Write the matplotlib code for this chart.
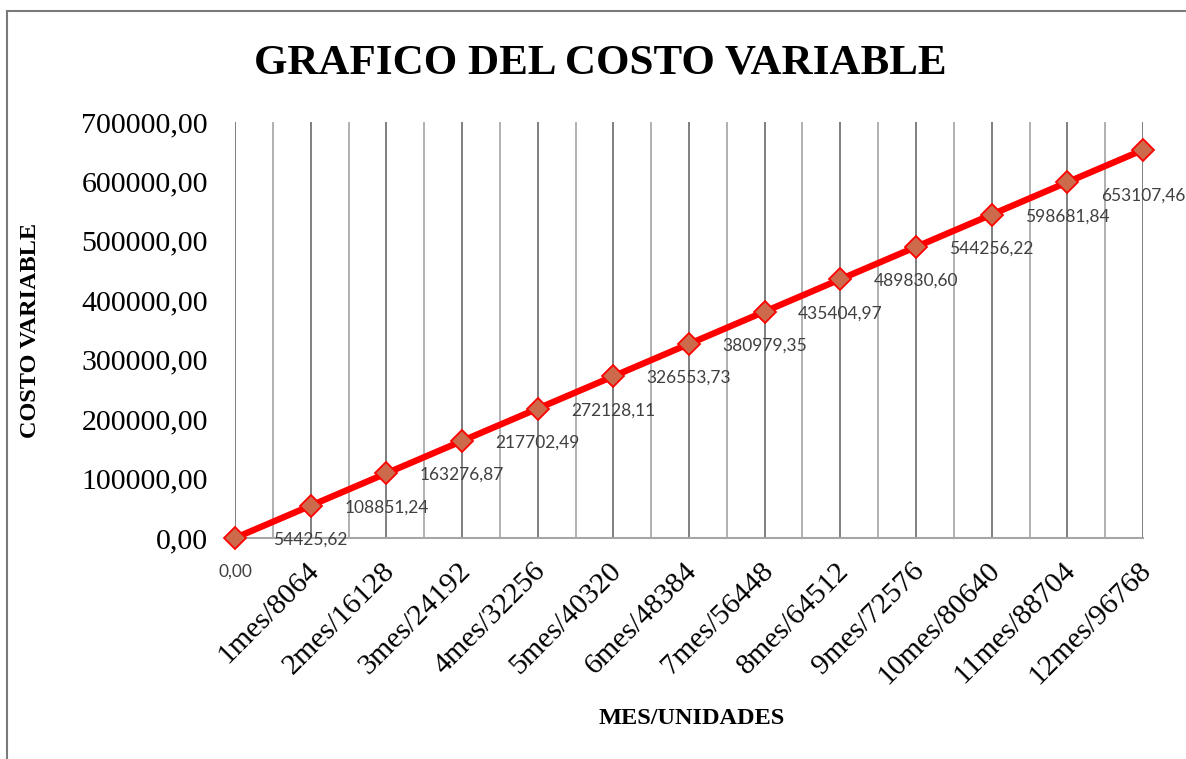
import matplotlib
matplotlib.use("Agg")
import matplotlib.pyplot as plt
from matplotlib.lines import Line2D
from matplotlib.transforms import ScaledTranslation
import numpy as np

categories = ["", "1mes/8064", "2mes/16128", "3mes/24192", "4mes/32256", "5mes/40320",
              "6mes/48384", "7mes/56448", "8mes/64512", "9mes/72576", "10mes/80640",
              "11mes/88704", "12mes/96768"]
values = [0.00, 54425.62, 108851.24, 163276.87, 217702.49, 272128.11, 326553.73,
          380979.35, 435404.97, 489830.60, 544256.22, 598681.84, 653107.46]
yticks = [0, 100000, 200000, 300000, 400000, 500000, 600000, 700000]

def fmt(v):
    return f"{v:.2f}".replace(".", ",")

W, H = 1186, 759
fig = plt.figure(figsize=(W / 100, H / 100), dpi=100)
ax = fig.add_axes([235 / W, 1 - 538 / H, (1143 - 235) / W, (538 - 122) / H])

x = np.arange(len(categories))
ax.set_xlim(0, len(categories) - 1)
ax.set_ylim(0, 700000)

# vertical gridlines
for xi in np.arange(0, len(categories) - 0.5 + 0.01, 0.5):
    major = abs(xi - round(xi)) < 1e-9
    ax.axvline(xi, color="#7f7f7f" if major else "#b0b0b0", lw=1.4, zorder=1)

ax.plot(x, values, color="#ff0000", lw=4.6, marker="D", markersize=11.5,
        markerfacecolor="#cd6a4c", markeredgecolor="#ff0000", markeredgewidth=1.3,
        zorder=4, clip_on=False)

for i, v in enumerate(values):
    off = -34 if i < len(values) - 1 else -46
    ax.annotate(fmt(v), (x[i], v), xytext=(0, off), textcoords="offset pixels",
                ha="center", va="center", fontsize=12.5, color="#404040",
                family="Lato", fontweight="normal", zorder=5, annotation_clip=False)

for s in ["top", "right", "left"]:
    ax.spines[s].set_visible(False)
ax.spines["bottom"].set_color("#a6a6a6")
ax.spines["bottom"].set_linewidth(1.5)
ax.spines["bottom"].set_zorder(2)

ax.set_yticks(yticks)
ax.set_yticklabels([fmt(v) for v in yticks], family="Liberation Serif", fontsize=21.5)
ax.tick_params(axis="y", length=0, pad=19.5)
ax.set_xticks(x)
ax.set_xticklabels(categories, family="Liberation Serif", fontsize=21.5,
                   rotation=45, ha="right", rotation_mode="anchor")
ax.tick_params(axis="x", length=0, pad=14)
shift = ScaledTranslation(-5 / 100, 0, fig.dpi_scale_trans)
for lab in ax.get_xticklabels():
    lab.set_transform(lab.get_transform() + shift)

fig.text(31 / W, 1 - 330 / H, "COSTO VARIABLE", family="Liberation Serif",
         fontweight="bold", fontsize=17.5, rotation=90, ha="center", va="center")
fig.text(692 / W, 1 - 718 / H, "MES/UNIDADES", family="Liberation Serif",
         fontweight="bold", fontsize=17.5, ha="center", va="center")

fig.text(600 / W, 1 - 63 / H, "GRAFICO DEL COSTO VARIABLE", family="Liberation Serif",
         fontweight="bold", fontsize=31, ha="center", va="center")

# chart border (top and left)
fig.add_artist(Line2D([7 / W, 7 / W], [0, 1 - 11 / H], transform=fig.transFigure,
                      color="#7a7a7a", lw=1.5))
fig.add_artist(Line2D([7 / W, 1], [1 - 11 / H, 1 - 11 / H], transform=fig.transFigure,
                      color="#7a7a7a", lw=1.5))

fig.savefig("out.png", dpi=100)
